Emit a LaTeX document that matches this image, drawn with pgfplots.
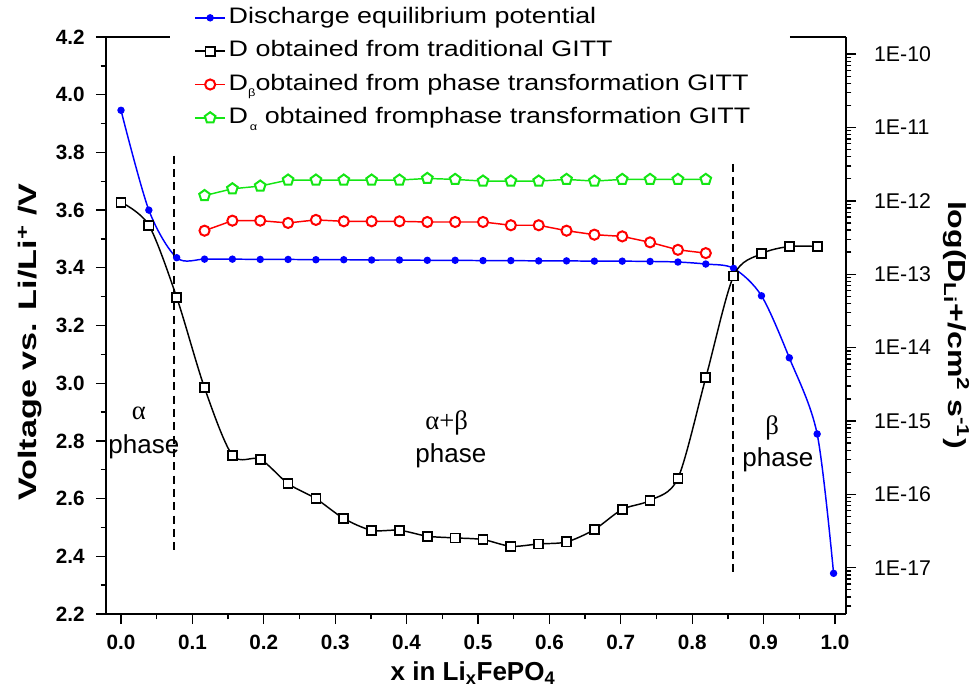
\documentclass[border=0pt]{standalone}
\usepackage{fontspec}
\setmainfont{Liberation Sans}
\newfontfamily\legfont{Liberation Sans}[FakeStretch=1.2]
\newfontfamily\labfont{Liberation Sans}[FakeStretch=1.35]
\newfontfamily\rlabfont{Liberation Sans}[FakeStretch=1.3]
\newfontfamily\seriffont{Liberation Serif}
\usepackage{pgfplots}
\pgfplotsset{compat=1.18}
\definecolor{cblue}{RGB}{0,0,255}
\definecolor{cred}{RGB}{255,0,0}
\definecolor{cgreen}{RGB}{20,230,20}
\pgfplotsset{
  common/.style={
    at={(0pt,0pt)}, anchor=south west,
    width=555pt, height=432.75pt, scale only axis,
    xmin=-0.021, xmax=1.0154,
    axis line style={line width=1.1pt},
    every tick/.style={line width=1pt, black},
    tick align=outside,
    major tick length=7.5pt, minor tick length=4pt,
    /pgf/number format/assume math mode=true,
    legend image code/.code={\draw[mark repeat=2,mark phase=2,##1] plot coordinates {(0cm,0cm) (0.4cm,0cm) (0.8cm,0cm)};},
  }
}
\begin{document}
\begin{tikzpicture}
\begin{axis}[common,
  ymin=2.2, ymax=4.2,
  axis x line*=bottom, axis y line*=left,
  xtick={0,0.1,0.2,0.3,0.4,0.5,0.6,0.7,0.8,0.9,1.0}, minor x tick num=1,
  ytick={2.2,2.4,2.6,2.8,3.0,3.2,3.4,3.6,3.8,4.0,4.2}, minor y tick num=1,
  xticklabel style={yshift=-5pt, font=\bfseries\fontsize{15.5}{18}\selectfont, /pgf/number format/.cd, fixed, fixed zerofill, precision=1},
  yticklabel style={xshift=-5pt, font=\bfseries\fontsize{15.5}{18}\selectfont, /pgf/number format/.cd, fixed, fixed zerofill, precision=1},
  xlabel={x in Li\textsubscript{x}FePO\textsubscript{4}},
  xlabel style={at={(axis description cs:0.496,-0.103)}, anchor=center, font=\bfseries\fontsize{19.5}{22}\selectfont},
  ylabel={Voltage vs. Li/Li\textsuperscript{+} /V},
  ylabel style={at={(axis description cs:-0.1027,0.471)}, anchor=center, font=\labfont\bfseries\fontsize{19}{22}\selectfont},
]
\addplot[color=cblue, line width=1.1pt, smooth, mark=*, mark size=2.2pt, mark options={fill=cblue}] coordinates {
(0.000,3.946) (0.039,3.600) (0.078,3.435) (0.117,3.430) (0.156,3.430) (0.195,3.429)
(0.234,3.429) (0.273,3.428) (0.312,3.428) (0.351,3.427) (0.390,3.427) (0.429,3.426)
(0.468,3.426) (0.507,3.425) (0.546,3.425) (0.585,3.424) (0.624,3.424) (0.663,3.423)
(0.702,3.423) (0.741,3.422) (0.780,3.420) (0.819,3.413) (0.858,3.398) (0.897,3.303)
(0.936,3.088) (0.975,2.824) (0.998,2.341)};
\addplot[black, line width=1pt, dash pattern=on 6pt off 4pt] coordinates {(0.0742,3.789) (0.0742,2.414)};
\addplot[black, line width=1pt, dash pattern=on 6pt off 4pt] coordinates {(0.857,3.760) (0.857,2.340)};
\draw[line width=1.1pt] (rel axis cs:0,1) -- (rel axis cs:0.0865,1);
\draw[line width=1.1pt] (rel axis cs:0.924,1) -- (rel axis cs:1,1);
\node[font=\seriffont\fontsize{20}{24}\selectfont] at (axis cs:0.025,2.897) {α};
\node[font=\fontsize{19.5}{22}\selectfont] at (axis cs:0.032,2.778) {phase};
\node[font=\seriffont\fontsize{20}{24}\selectfont] at (axis cs:0.456,2.862) {α+β};
\node[font=\fontsize{19.5}{22}\selectfont] at (axis cs:0.462,2.747) {phase};
\node[font=\seriffont\fontsize{20}{24}\selectfont] at (axis cs:0.912,2.844) {β};
\node[font=\fontsize{19.5}{22}\selectfont] at (axis cs:0.920,2.733) {phase};
\end{axis}
\begin{semilogyaxis}[common,
  ymin=2.34e-18, ymax=1.71e-10,
  axis x line=none, axis y line*=right,
  ytick={1e-17,1e-16,1e-15,1e-14,1e-13,1e-12,1e-11,1e-10},
  yticklabels={1E-17,1E-16,1E-15,1E-14,1E-13,1E-12,1E-11,1E-10},
  minor ytick={3e-18,4e-18,5e-18,6e-18,7e-18,8e-18,9e-18,
    2e-17,3e-17,4e-17,5e-17,6e-17,7e-17,8e-17,9e-17,
    2e-16,3e-16,4e-16,5e-16,6e-16,7e-16,8e-16,9e-16,
    2e-15,3e-15,4e-15,5e-15,6e-15,7e-15,8e-15,9e-15,
    2e-14,3e-14,4e-14,5e-14,6e-14,7e-14,8e-14,9e-14,
    2e-13,3e-13,4e-13,5e-13,6e-13,7e-13,8e-13,9e-13,
    2e-12,3e-12,4e-12,5e-12,6e-12,7e-12,8e-12,9e-12,
    2e-11,3e-11,4e-11,5e-11,6e-11,7e-11,8e-11,9e-11},
  yticklabel style={xshift=10pt, font=\fontsize{16}{19}\selectfont},
  ylabel={log(D\textsubscript{Li}+/cm\textsuperscript{2} s\textsuperscript{-1})},
  ylabel style={at={(axis description cs:1.149,0.501)}, anchor=center, rotate=180, font=\rlabfont\bfseries\fontsize{18.5}{22}\selectfont},
  legend style={at={(0.1135,1.062)}, anchor=north west, draw=none, fill=white,
    font=\legfont\fontsize{16.8}{19}\selectfont, row sep=4.5pt,
    nodes={text height=12.5pt, text depth=4pt}},
  legend cell align=left,
]
\addlegendimage{color=cblue, line width=1.1pt, mark=*, mark size=2.2pt, mark options={fill=cblue}}
\addlegendentry{Discharge equilibrium potential}
\addplot[black, line width=1.1pt, smooth, mark=square*, mark size=3.4pt, mark options={fill=white, line width=1.3pt}] coordinates {
(0.000,9.59e-13) (0.039,4.65e-13) (0.078,4.84e-14) (0.117,2.83e-15) (0.156,3.42e-16)
(0.195,3.01e-16) (0.234,1.40e-16) (0.273,8.73e-17) (0.312,4.69e-17) (0.351,3.24e-17)
(0.390,3.24e-17) (0.429,2.69e-17) (0.468,2.55e-17) (0.507,2.42e-17) (0.546,1.96e-17)
(0.585,2.11e-17) (0.624,2.25e-17) (0.663,3.32e-17) (0.702,6.24e-17) (0.741,8.28e-17)
(0.780,1.66e-16) (0.819,3.88e-15) (0.858,9.48e-14) (0.897,1.90e-13) (0.936,2.39e-13)
(0.975,2.39e-13)};
\addlegendentry{D obtained from traditional GITT}
\addplot[color=cred, line width=1.1pt, mark=*, mark size=3.8pt, mark options={fill=white, line width=1.5pt}] coordinates {
(0.117,3.92e-13) (0.156,5.37e-13) (0.195,5.37e-13) (0.234,5.00e-13) (0.273,5.50e-13)
(0.312,5.26e-13) (0.351,5.26e-13) (0.390,5.26e-13) (0.429,5.15e-13) (0.468,5.15e-13)
(0.507,5.15e-13) (0.546,4.65e-13) (0.585,4.65e-13) (0.624,3.92e-13) (0.663,3.46e-13)
(0.702,3.28e-13) (0.741,2.72e-13) (0.780,2.15e-13) (0.819,1.94e-13)};
\addlegendentry{D\raisebox{-5pt}{\fontsize{8}{8}\selectfont β}obtained from phase transformation GITT}
\addplot[color=cgreen, line width=1.1pt, mark=pentagon*, mark size=4.2pt, mark options={fill=white, line width=1.5pt}] coordinates {
(0.117,1.18e-12) (0.156,1.46e-12) (0.195,1.59e-12) (0.234,1.92e-12) (0.273,1.92e-12)
(0.312,1.92e-12) (0.351,1.92e-12) (0.390,1.92e-12) (0.429,2.02e-12) (0.468,1.96e-12)
(0.507,1.86e-12) (0.546,1.86e-12) (0.585,1.86e-12) (0.624,1.96e-12) (0.663,1.86e-12)
(0.702,1.96e-12) (0.741,1.96e-12) (0.780,1.96e-12) (0.819,1.96e-12)};
\addlegendentry{D\raisebox{-5pt}{\fontsize{8}{8}\selectfont \,α} obtained fromphase transformation GITT}
\end{semilogyaxis}
\pgfresetboundingbox
\useasboundingbox (-79.5pt,-60.75pt) rectangle (655.5pt,460.5pt);
\end{tikzpicture}
\end{document}
